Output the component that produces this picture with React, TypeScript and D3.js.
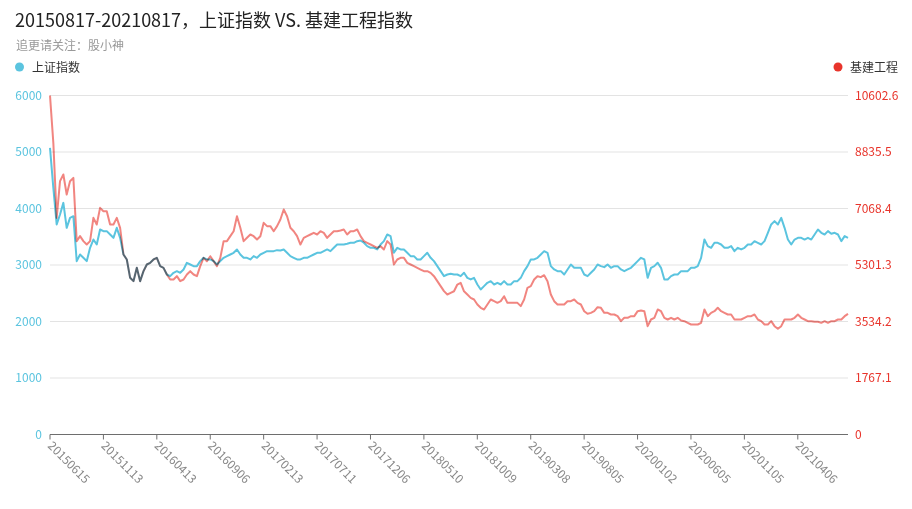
import React from "react";
import * as d3 from "d3";

const TITLE = "20150817-20210817，上证指数 VS. 基建工程指数";
const SUBTITLE = "追更请关注：股小神";
const SERIES_NAMES = ["上证指数", "基建工程"];

// trading-day category labels, one every 100 trading days
const tickLabels = [
  "20150615", "20151113", "20160413", "20160906", "20170213", "20170711", "20171206",
  "20180510", "20181009", "20190308", "20190805", "20200102", "20200605", "20201105", "20210406",
];
const TOTAL_DAYS = 1495;
const LABEL_INTERVAL = 100;

// 上证指数 (left axis), sampled evenly over the period
const shIndex = [
  5074, 4366, 3717, 3894, 4100, 3658, 3835, 3864, 3068, 3186, 3127, 3068, 3304, 3451, 3363, 3628, 3599, 3599, 3540, 3481, 3658, 3481, 3186, 3098, 2773, 2714, 2950, 2714, 2891, 3009, 3039,
  3098, 3127, 2980, 2950, 2832, 2803, 2862, 2891, 2862, 2921, 3039, 3009, 2980, 2980, 3068, 3127, 3098, 3098, 3068, 3009, 3068, 3127, 3157, 3186, 3216, 3275, 3186, 3127, 3127, 3098,
  3157, 3127, 3186, 3216, 3245, 3245, 3245, 3263, 3257, 3275, 3216, 3157, 3127, 3098, 3098, 3127, 3127, 3157, 3186, 3216, 3216, 3245, 3275, 3245, 3304, 3363, 3363, 3363, 3375, 3393,
  3393, 3422, 3434, 3393, 3334, 3304, 3304, 3275, 3363, 3422, 3540, 3511, 3216, 3304, 3275, 3275, 3216, 3157, 3157, 3098, 3098, 3157, 3216, 3127, 3068, 2980, 2891, 2803, 2832, 2844,
  2832, 2832, 2803, 2862, 2773, 2744, 2773, 2655, 2567, 2626, 2685, 2714, 2655, 2685, 2655, 2714, 2655, 2655, 2714, 2714, 2773, 2891, 2980, 3098, 3098, 3127, 3186, 3245, 3216, 2980,
  2921, 2891, 2891, 2832, 2921, 3009, 2950, 2950, 2950, 2832, 2803, 2862, 2921, 3009, 2980, 2962, 3009, 2950, 2980, 2980, 2921, 2891, 2921, 2950, 3009, 3068, 3127, 3098, 2773, 2950,
  2980, 3039, 2950, 2744, 2744, 2803, 2832, 2832, 2891, 2891, 2891, 2950, 2950, 2980, 3127, 3451, 3334, 3304, 3393, 3393, 3363, 3304, 3304, 3334, 3245, 3304, 3275, 3304, 3363, 3363,
  3422, 3393, 3363, 3422, 3570, 3717, 3776, 3717, 3835, 3658, 3451, 3363, 3451, 3481, 3481, 3451, 3481, 3451, 3540, 3628, 3570, 3540, 3599, 3552, 3570, 3540, 3422, 3511, 3481,
];

// 基建工程 (right axis), sampled at the same dates
const jjIndex = [
  10602.6, 9122, 6776, 7923, 8132, 7506, 7923, 8027, 6047, 6203, 6047, 5942, 6047, 6776, 6568, 7089, 6985, 6985, 6568, 6568, 6776, 6464, 5630, 5473, 4900, 4796, 5213, 4796, 5108, 5317, 5369,
  5473, 5525, 5265, 5213, 5004, 4848, 4848, 4952, 4796, 4848, 5004, 5108, 5004, 4952, 5265, 5525, 5421, 5577, 5421, 5265, 5525, 6047, 6047, 6203, 6359, 6828, 6464, 6047, 6151, 6255,
  6203, 6099, 6203, 6620, 6516, 6516, 6359, 6516, 6724, 7037, 6828, 6464, 6359, 6203, 5942, 6151, 6203, 6255, 6307, 6255, 6359, 6307, 6151, 6255, 6359, 6359, 6380, 6411, 6255, 6359,
  6359, 6411, 6203, 6047, 5994, 5942, 5890, 5838, 5890, 5786, 6047, 5942, 5317, 5473, 5525, 5525, 5369, 5317, 5265, 5213, 5160, 5108, 5108, 5056, 4952, 4796, 4639, 4483, 4379, 4431,
  4480, 4690, 4743, 4480, 4379, 4274, 4222, 4066, 3962, 3909, 4066, 4222, 4170, 4118, 4170, 4326, 4118, 4118, 4118, 4118, 4014, 4222, 4587, 4639, 4848, 4952, 4921, 4983, 4796, 4379,
  4170, 4066, 4066, 4066, 4170, 4170, 4222, 4118, 4066, 3857, 3774, 3805, 3857, 3982, 3962, 3805, 3805, 3753, 3753, 3701, 3545, 3649, 3649, 3701, 3701, 3857, 3878, 3857, 3388, 3597,
  3649, 3909, 3857, 3649, 3597, 3649, 3597, 3649, 3565, 3545, 3492, 3440, 3440, 3440, 3492, 3909, 3701, 3805, 3857, 3962, 3857, 3805, 3753, 3753, 3597, 3597, 3597, 3649, 3701, 3701,
  3753, 3597, 3545, 3440, 3440, 3545, 3388, 3305, 3388, 3597, 3597, 3597, 3649, 3753, 3649, 3597, 3545, 3545, 3524, 3524, 3492, 3545, 3492, 3545, 3545, 3597, 3597, 3701, 3774,
];

const leftTicks = [0, 1000, 2000, 3000, 4000, 5000, 6000];
const rightMax = 10602.6;
const rightTicks = [0, 1767.1, 3534.2, 5301.3, 7068.4, 8835.5, 10602.6];

const BLUE = "#5bc4df";
const RED = "#e8342b";
const FONT = "'Noto Sans CJK SC', 'Noto Sans', sans-serif";

export default function App() {
  const W = 912, H = 509;
  const left = 50, right = 848, top = 95.5, bottom = 434.5;

  const x = d3.scaleLinear().domain([0, TOTAL_DAYS - 1]).range([left, right]);
  const yL = d3.scaleLinear().domain([0, 6000]).range([bottom, top]);
  const yR = d3.scaleLinear().domain([0, rightMax]).range([bottom, top]);

  const dayOf = (i: number, n: number) => (i * (TOTAL_DAYS - 1)) / (n - 1);

  const lineL = d3
    .line<number>()
    .x((_, i) => x(dayOf(i, shIndex.length)))
    .y((d) => yL(d));
  const lineR = d3
    .line<number>()
    .x((_, i) => x(dayOf(i, jjIndex.length)))
    .y((d) => yR(d));

  const tickIdx = tickLabels.map((_, k) => k * LABEL_INTERVAL);

  return (
    <svg width={W} height={H} style={{ position: "absolute", left: 0, top: 0, background: "#fff" }} fontFamily={FONT}>
      <text x={15} y={27} fontSize={18} fill="#222">{TITLE}</text>
      <text x={16} y={50} fontSize={12} fill="#999">{SUBTITLE}</text>

      {/* legends */}
      <circle cx={19.5} cy={67} r={4.5} fill={BLUE} />
      <text x={32} y={71.5} fontSize={12} fill="#333">{SERIES_NAMES[0]}</text>
      <circle cx={838} cy={67} r={4.5} fill={RED} />
      <text x={850} y={71.5} fontSize={12} fill="#333">{SERIES_NAMES[1]}</text>

      {/* grid */}
      {leftTicks.map((t) => (
        <line key={"g" + t} x1={left} x2={right} y1={yL(t)} y2={yL(t)} stroke="#e3e3e3" strokeWidth={1} />
      ))}
      {leftTicks.map((t) => (
        <text key={"l" + t} x={42} y={yL(t) + 4} fontSize={12} fill={BLUE} textAnchor="end">{t}</text>
      ))}
      {rightTicks.map((t) => (
        <text key={"r" + t} x={855} y={yR(t) + 4} fontSize={12} fill={RED}>{t === 0 ? "0" : t.toFixed(1)}</text>
      ))}

      {/* x axis */}
      <line x1={left} x2={right} y1={bottom} y2={bottom} stroke="#6e6e6e" strokeWidth={1} />
      {tickIdx.map((d, k) => (
        <g key={"t" + k}>
          <line x1={x(d)} x2={x(d)} y1={bottom} y2={bottom + 5} stroke="#6e6e6e" />
          <text
            transform={`translate(${x(d) - 3},${bottom + 12}) rotate(45)`}
            fontSize={12}
            fill="#888"
          >
            {tickLabels[k]}
          </text>
        </g>
      ))}

      {/* series */}
      <path d={lineL(shIndex) || ""} fill="none" stroke={BLUE} strokeWidth={2} strokeLinejoin="round" />
      <path
        d={lineR(jjIndex) || ""}
        fill="none"
        stroke={RED}
        strokeOpacity={0.6}
        strokeWidth={2}
        strokeLinejoin="round"
        style={{ mixBlendMode: "multiply" }}
      />
    </svg>
  );
}
